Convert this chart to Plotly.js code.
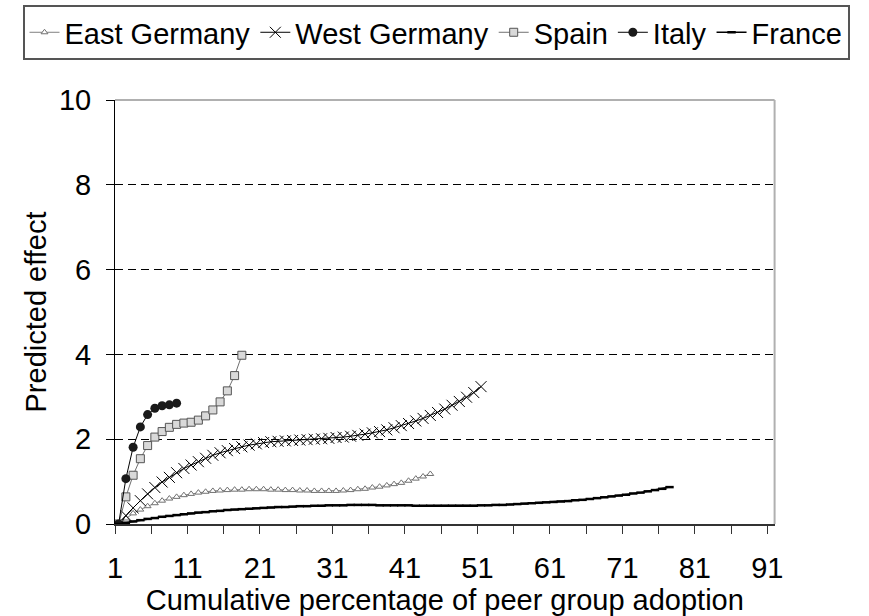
<!DOCTYPE html>
<html><head><meta charset="utf-8">
<script src="https://cdn.plot.ly/plotly-3.0.1.min.js"></script>
<style>html,body{margin:0;padding:0;background:#fff;overflow:hidden;}#chart{width:869px;height:616px;}</style>
</head><body><div id="chart"></div>
<script>
// Category index (cumulative percentage of peer group adoption)
const categories = Array.from({length: 91}, (_, i) => i + 1);
const xTickLabels = ['1','11','21','31','41','51','61','71','81','91'];
const yTickValues = [0, 2, 4, 6, 8, 10];

const seriesNames = ['East Germany', 'West Germany', 'Spain', 'Italy', 'France'];

const eastGermany = [0, 0.13, 0.25, 0.34, 0.42, 0.49, 0.55, 0.60, 0.64, 0.68,
  0.71, 0.74, 0.76, 0.78, 0.79, 0.80, 0.81, 0.81, 0.82, 0.82,
  0.82, 0.81, 0.81, 0.80, 0.80, 0.79, 0.79, 0.78, 0.78, 0.78,
  0.78, 0.79, 0.80, 0.82, 0.83, 0.86, 0.88, 0.91, 0.94, 0.97,
  1.02, 1.07, 1.12, 1.18];

const westGermany = [0, 0.20, 0.38, 0.55, 0.71, 0.86, 0.99, 1.10, 1.21, 1.31,
  1.39, 1.47, 1.55, 1.62, 1.68, 1.73, 1.78, 1.82, 1.86, 1.89,
  1.92, 1.94, 1.95, 1.96, 1.97, 1.98, 1.99, 2.00, 2.01, 2.02,
  2.04, 2.05, 2.07, 2.09, 2.12, 2.15, 2.18, 2.22, 2.27, 2.32,
  2.37, 2.43, 2.49, 2.56, 2.63, 2.71, 2.80, 2.89, 2.99, 3.10,
  3.24];

const spain = [0, 0.64, 1.15, 1.54, 1.85, 2.05, 2.18, 2.28, 2.35, 2.38,
  2.40, 2.45, 2.55, 2.69, 2.88, 3.14, 3.50, 3.98];

const italy = [0, 1.07, 1.81, 2.29, 2.58, 2.73, 2.79, 2.81, 2.85];

const france = [0, 0.03, 0.06, 0.09, 0.12, 0.14, 0.17, 0.19, 0.21, 0.23,
  0.25, 0.27, 0.28, 0.30, 0.31, 0.33, 0.34, 0.35, 0.36, 0.37,
  0.38, 0.39, 0.40, 0.40, 0.41, 0.42, 0.42, 0.43, 0.43, 0.44,
  0.44, 0.44, 0.45, 0.45, 0.45, 0.45, 0.44, 0.44, 0.44, 0.44,
  0.44, 0.43, 0.43, 0.43, 0.43, 0.43, 0.43, 0.43, 0.43, 0.43,
  0.44, 0.44, 0.45, 0.45, 0.46, 0.47, 0.48, 0.49, 0.50, 0.51,
  0.52, 0.53, 0.54, 0.56, 0.57, 0.59, 0.61, 0.63, 0.65, 0.67,
  0.69, 0.72, 0.74, 0.77, 0.80, 0.83, 0.87];

const FONT = '"Liberation Sans", Arial, sans-serif';
const W = 869, H = 616;
const M = {l: 2, r: 2, t: 100, b: 92};
const plotLeft = 115, plotRight = 774.6;
const innerW = W - M.l - M.r;

function xs(arr) { return categories.slice(0, arr.length); }

const traces = [
  {name: seriesNames[0], x: xs(eastGermany), y: eastGermany, type: 'scatter', mode: 'lines+markers',
   line: {color: '#808080', width: 1},
   marker: {symbol: 'triangle-up', size: 6, color: '#ffffff', line: {color: '#707070', width: 1}}},
  {name: seriesNames[1], x: xs(westGermany), y: westGermany, type: 'scatter', mode: 'lines+markers',
   line: {color: '#000000', width: 1},
   marker: {symbol: 'x-thin', size: 11, color: '#000000', line: {color: '#000000', width: 1}}},
  {name: seriesNames[2], x: xs(spain), y: spain, type: 'scatter', mode: 'lines+markers',
   line: {color: '#707070', width: 1},
   marker: {symbol: 'square', size: 8, color: '#d9d9d9', line: {color: '#555555', width: 1}}},
  {name: seriesNames[3], x: xs(italy), y: italy, type: 'scatter', mode: 'lines+markers',
   line: {color: '#000000', width: 1},
   marker: {symbol: 'circle', size: 9, color: '#1a1a1a'}},
  {name: seriesNames[4], x: xs(france), y: france, type: 'scatter', mode: 'lines+markers',
   line: {color: '#000000', width: 1.5},
   marker: {symbol: 'line-ew', size: 6, color: '#000000', line: {color: '#000000', width: 2.5}}}
];

const layout = {
  width: W, height: H,
  margin: {l: M.l, r: M.r, t: M.t, b: M.b, pad: 0},
  paper_bgcolor: '#ffffff', plot_bgcolor: '#ffffff',
  font: {family: FONT, size: 29, color: '#000000'},
  showlegend: true,
  legend: {
    orientation: 'h', xref: 'paper', x: (436 - M.l) / innerW, xanchor: 'center',
    yref: 'container', y: 0.992, yanchor: 'top',
    bordercolor: '#555555', borderwidth: 2, bgcolor: '#ffffff',
    font: {family: FONT, size: 29, color: '#000000'},
    itemwidth: 30, traceorder: 'normal'
  },
  xaxis: {
    domain: [(plotLeft - M.l) / innerW, (plotRight - M.l) / innerW],
    range: [0.5, 91.5], tickmode: 'array',
    tickvals: xTickLabels.map(v => Number(v) - 0.5), ticktext: xTickLabels,
    ticks: 'outside', ticklen: 8, tickcolor: '#333333', tickwidth: 1, ticklabelstandoff: 10,
    minor: {tickmode: 'linear', tick0: 0.5, dtick: 5, ticks: 'outside', ticklen: 8, tickcolor: '#333333', tickwidth: 1, showgrid: false},
    showline: true, linecolor: '#333333', linewidth: 1.5,
    showgrid: false, zeroline: false, automargin: false,
    tickfont: {family: FONT, size: 29},
    title: {text: 'Cumulative percentage of peer group adoption', font: {family: FONT, size: 29}, standoff: 4}
  },
  yaxis: {
    range: [0, 10], tickmode: 'array', tickvals: yTickValues, ticktext: yTickValues.map(String),
    ticks: 'outside', ticklen: 8, tickcolor: '#000000', tickwidth: 1, ticklabelstandoff: 9,
    showline: true, linecolor: '#000000', linewidth: 1,
    showgrid: true, gridcolor: '#000000', gridwidth: 1, griddash: '8px,5px',
    zeroline: false, automargin: false,
    tickfont: {family: FONT, size: 29},
    title: {text: 'Predicted effect', font: {family: FONT, size: 29}, standoff: 3}
  },
  shapes: [
    {type: 'line', xref: 'x domain', yref: 'y domain', x0: 0, x1: 1, y0: 1, y1: 1, layer: 'below', line: {color: '#b0b0b0', width: 2}},
    {type: 'line', xref: 'x domain', yref: 'y domain', x0: 1, x1: 1, y0: 0, y1: 1, layer: 'below', line: {color: '#b0b0b0', width: 2}}
  ]
};

Plotly.newPlot('chart', traces, layout, {displayModeBar: false, staticPlot: true});
</script>
</body></html>
